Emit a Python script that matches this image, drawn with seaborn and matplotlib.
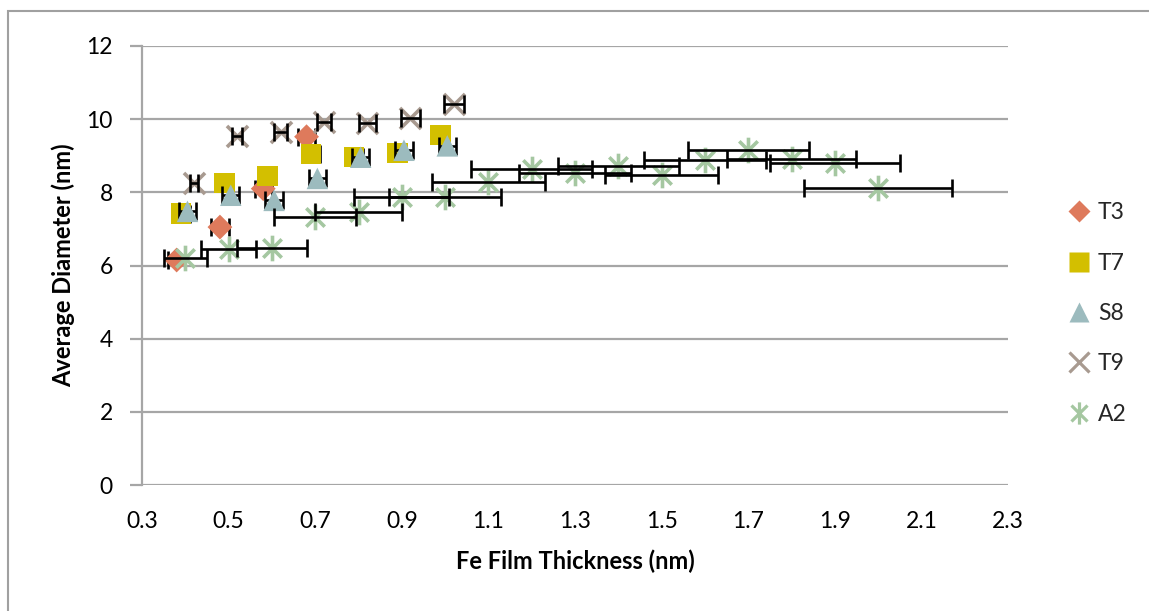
import matplotlib
matplotlib.use("Agg")
import matplotlib.pyplot as plt
import seaborn as sns
import pandas as pd
from matplotlib.path import Path
from matplotlib.patches import Rectangle
from matplotlib.lines import Line2D

# ---- data ----
t3_x = [0.38, 0.48, 0.58, 0.68]
t3_y = [6.15, 7.05, 8.10, 9.52]
t3_err = [0.02, 0.02, 0.02, 0.02]

t7_x = [0.39, 0.49, 0.59, 0.69, 0.79, 0.89, 0.99]
t7_y = [7.42, 8.25, 8.45, 9.05, 8.97, 9.08, 9.57]
t7_err = [0.02, 0.02, 0.02, 0.02, 0.02, 0.02, 0.02]

s8_x = [0.405, 0.505, 0.605, 0.705, 0.805, 0.905, 1.005]
s8_y = [7.48, 7.92, 7.78, 8.38, 8.96, 9.15, 9.27]
s8_err = [0.02, 0.02, 0.02, 0.02, 0.02, 0.02, 0.02]

t9_x = [0.42, 0.52, 0.62, 0.72, 0.82, 0.92, 1.02]
t9_y = [8.25, 9.55, 9.66, 9.93, 9.90, 10.02, 10.41]
t9_err = [0.01, 0.012, 0.014, 0.016, 0.02, 0.022, 0.023]

a2_x = [0.4, 0.5, 0.6, 0.7, 0.8, 0.9, 1.0, 1.1, 1.2, 1.3, 1.4, 1.5, 1.6, 1.7, 1.8, 1.9, 2.0]
a2_y = [6.2, 6.45, 6.47, 7.33, 7.47, 7.86, 7.88, 8.29, 8.63, 8.52, 8.72, 8.47, 8.88, 9.16, 8.91, 8.79, 8.11]
a2_err = [0.05, 0.064, 0.08, 0.094, 0.10, 0.11, 0.13, 0.13, 0.14, 0.13, 0.14, 0.13, 0.14, 0.14, 0.15, 0.15, 0.17]

series_names = ["T3", "T7", "S8", "T9", "A2"]
x_ticks = [0.3, 0.5, 0.7, 0.9, 1.1, 1.3, 1.5, 1.7, 1.9, 2.1, 2.3]
y_ticks = [0, 2, 4, 6, 8, 10, 12]

# ---- style ----
sns.set_theme(style="white")
plt.rcParams["font.family"] = ["Lato", "DejaVu Sans"]

star = Path(
    [(0, 1), (0, -1), (-0.72, 0.72), (0.72, -0.72), (-0.72, -0.72), (0.72, 0.72)],
    [Path.MOVETO, Path.LINETO, Path.MOVETO, Path.LINETO, Path.MOVETO, Path.LINETO],
)

colors = {"T3": "#DE7A5C", "T7": "#D3BF00", "S8": "#9CBBBE", "T9": "#A89A90", "A2": "#A5C7A1"}
markers = {"T3": "D", "T7": "s", "S8": "^", "T9": "x", "A2": star}
sizes = {"T3": 160, "T7": 220, "S8": 240, "T9": 230, "A2": 340}

data = {
    "T3": (t3_x, t3_y, t3_err),
    "T7": (t7_x, t7_y, t7_err),
    "S8": (s8_x, s8_y, s8_err),
    "T9": (t9_x, t9_y, t9_err),
    "A2": (a2_x, a2_y, a2_err),
}

W, H = 1149, 611
fig = plt.figure(figsize=(W / 100, H / 100), dpi=100)
ax = fig.add_axes([142 / W, 1 - 485 / H, (1008 - 142) / W, (485 - 46) / H])

grid_c = "#A6A6A6"
eb = dict(fmt="none", ecolor="black", elinewidth=1.9, capsize=6.5, capthick=1.9)
z = 2
for name in series_names:
    xs, ys, es = data[name]
    df = pd.DataFrame({"x": xs, "y": ys})
    if name in ("T3", "T7", "S8"):
        ax.errorbar(xs, ys, xerr=es, zorder=z, **eb)
        sns.scatterplot(data=df, x="x", y="y", ax=ax, marker=markers[name], s=sizes[name],
                        color=colors[name], edgecolor="none", linewidth=0, zorder=z + 0.5,
                        legend=False)
    else:
        sns.scatterplot(data=df, x="x", y="y", ax=ax, marker=markers[name], s=sizes[name],
                        color=colors[name], edgecolor=colors[name], linewidth=2.6, zorder=z,
                        legend=False)
        ax.errorbar(xs, ys, xerr=es, zorder=z + 0.5, **eb)
    z += 1

ax.set_xlim(0.3, 2.3)
ax.set_ylim(0, 12)
ax.set_xticks(x_ticks)
ax.set_xticklabels([f"{v:.1f}" for v in x_ticks])
ax.set_yticks(y_ticks)
ax.set_yticklabels([str(v) for v in y_ticks])
ax.yaxis.grid(True, color=grid_c, linewidth=1.6)
ax.set_axisbelow(True)
for s in ["top", "right", "bottom"]:
    ax.spines[s].set_visible(False)
ax.spines["left"].set_color(grid_c)
ax.spines["left"].set_linewidth(1.6)
ax.tick_params(axis="y", which="major", left=True, length=9, width=1.6, color=grid_c,
               pad=12, labelsize=16.5, labelcolor="black")
ax.tick_params(axis="x", which="major", bottom=False, length=0, pad=19, labelsize=16.5,
               labelcolor="black")

ax.set_xlabel("Fe Film Thickness (nm)", fontsize=17, fontweight="bold", labelpad=12, color="black")
ax.set_ylabel("Average Diameter (nm)", fontsize=17, fontweight="bold", labelpad=8, color="black")

# legend
handles = []
for name in series_names:
    m = markers[name]
    if name in ("T9", "A2"):
        ms = {"T9": 14, "A2": 16}[name]
        h = Line2D([], [], linestyle="none", marker=m, markersize=ms, markeredgecolor=colors[name],
                   markeredgewidth=2.3, color=colors[name])
    else:
        ms = {"T3": 11, "T7": 14, "S8": 15}[name]
        h = Line2D([], [], linestyle="none", marker=m, markersize=ms, markerfacecolor=colors[name],
                   markeredgecolor="none", color=colors[name])
    handles.append(h)
fig.legend(handles, series_names, loc="center left", bbox_to_anchor=(1068 / W, 1 - 313.5 / H),
           frameon=False, fontsize=16.5, handlelength=1.0, handletextpad=0.3, labelspacing=1.28,
           borderpad=0, borderaxespad=0)

# outer chart frame
fig.patches.append(Rectangle((8 / W, -0.1), 1.2, 1 - 11 / H + 0.1, transform=fig.transFigure,
                             fill=False, edgecolor="#A0A0A0", linewidth=1.5))

fig.savefig("out.png", dpi=100)
